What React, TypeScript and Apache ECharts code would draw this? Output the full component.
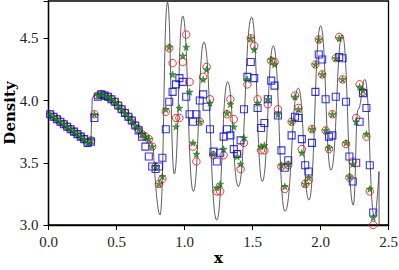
import React, { useEffect, useRef } from "react";
import * as echarts from "echarts";

// sample positions of the coarse-grid solutions
const xs = [
  0.0125, 0.0375, 0.0625, 0.0875, 0.1125, 0.1375, 0.1625, 0.1875, 0.2125, 0.2375,
  0.2625, 0.2875, 0.3125, 0.3375, 0.3625, 0.3875, 0.4125, 0.4375, 0.4625, 0.4875,
  0.5125, 0.5375, 0.5625, 0.5875, 0.6125, 0.6375, 0.6625, 0.6875, 0.7125, 0.7375,
  0.7625, 0.7875, 0.8125, 0.8375, 0.8625, 0.8875, 0.9125, 0.9375, 0.9625, 0.9875,
  1.0125, 1.0375, 1.0625, 1.0875, 1.1125, 1.1375, 1.1625, 1.1875, 1.2125, 1.2375,
  1.2625, 1.2875, 1.3125, 1.3375, 1.3625, 1.3875, 1.4125, 1.4375, 1.4625, 1.4875,
  1.5125, 1.5375, 1.5625, 1.5875, 1.6125, 1.6375, 1.6625, 1.6875, 1.7125, 1.7375,
  1.7625, 1.7875, 1.8125, 1.8375, 1.8625, 1.8875, 1.9125, 1.9375, 1.9625, 1.9875,
  2.0125, 2.0375, 2.0625, 2.0875, 2.1125, 2.1375, 2.1625, 2.1875, 2.2125, 2.2375,
  2.2625, 2.2875, 2.3125, 2.3375, 2.3625, 2.3875,
];

const redCircles = [
  3.89, 3.87, 3.85, 3.83, 3.81, 3.79, 3.77, 3.75, 3.73, 3.71,
  3.69, 3.66, 3.68, 3.89, 4.04, 4.05, 4.04, 4.03, 4.01, 3.99,
  3.96, 3.93, 3.90, 3.87, 3.84, 3.80, 3.77, 3.73, 3.71, 3.69,
  3.63, 3.47, 3.33, 3.37, 3.91, 4.42, 4.30, 3.86, 3.86, 4.31,
  4.53, 4.15, 3.63, 3.51, 3.83, 4.19, 4.27, 4.01, 3.56, 3.27,
  3.27, 3.56, 3.89, 4.01, 3.85, 3.57, 3.45, 3.66, 4.13, 4.50,
  4.44, 4.01, 3.60, 3.60, 3.97, 4.32, 4.31, 3.93, 3.47, 3.29,
  3.48, 3.83, 4.04, 3.94, 3.61, 3.33, 3.36, 3.77, 4.29, 4.49,
  4.21, 3.76, 3.61, 3.89, 4.34, 4.51, 4.17, 3.65, 3.38, 3.51,
  3.86, 4.13, 4.07, 3.71, 3.27, 3.00,
];

const greenStars = [
  3.89, 3.87, 3.85, 3.83, 3.81, 3.79, 3.77, 3.75, 3.73, 3.71,
  3.69, 3.66, 3.68, 3.89, 4.04, 4.05, 4.04, 4.03, 4.01, 3.99,
  3.96, 3.93, 3.90, 3.87, 3.84, 3.80, 3.77, 3.73, 3.71, 3.69,
  3.63, 3.47, 3.33, 3.39, 3.93, 4.43, 4.21, 3.79, 3.94, 4.36,
  4.43, 4.07, 3.66, 3.57, 3.83, 4.17, 4.25, 3.98, 3.57, 3.30,
  3.33, 3.61, 3.90, 3.97, 3.79, 3.55, 3.49, 3.70, 4.17, 4.50,
  4.41, 3.98, 3.63, 3.64, 4.01, 4.33, 4.29, 3.89, 3.48, 3.31,
  3.49, 3.83, 4.03, 3.93, 3.58, 3.33, 3.38, 3.77, 4.29, 4.49,
  4.21, 3.76, 3.62, 3.89, 4.34, 4.50, 4.17, 3.66, 3.39, 3.49,
  3.83, 4.11, 4.08, 3.73, 3.29, 3.06,
];

const blueSquares = [
  3.89, 3.87, 3.85, 3.83, 3.81, 3.79, 3.77, 3.75, 3.73, 3.71,
  3.69, 3.66, 3.67, 3.86, 4.03, 4.05, 4.04, 4.03, 4.01, 3.99,
  3.96, 3.93, 3.90, 3.87, 3.84, 3.80, 3.76, 3.71, 3.63, 3.55,
  3.47, 3.45, 3.47, 3.54, 3.77, 3.99, 4.07, 4.13, 4.18, 4.15,
  4.03, 3.89, 3.83, 3.89, 4.00, 4.05, 3.95, 3.77, 3.59, 3.51,
  3.58, 3.71, 3.77, 3.72, 3.61, 3.57, 3.68, 3.93, 4.19, 4.31,
  4.18, 3.94, 3.78, 3.82, 4.01, 4.16, 4.12, 3.88, 3.60, 3.46,
  3.52, 3.72, 3.87, 3.86, 3.69, 3.48, 3.43, 3.66, 4.07, 4.37,
  4.33, 4.01, 3.71, 3.72, 4.03, 4.35, 4.34, 3.99, 3.55, 3.35,
  3.50, 3.83, 4.06, 3.94, 3.48, 3.10,
];

// high-resolution reference solution: smooth part and shock
const refSmoothX = [0, 0.30, 0.312, 0.322, 0.34, 0.385, 0.43, 0.50, 0.58, 0.65, 0.72, 0.77];
const refSmoothY = [3.89, 3.655, 3.665, 4.02, 4.045, 4.055, 4.04, 3.98, 3.89, 3.80, 3.71, 3.63];
// oscillatory part: extrema
const refWaveX = [
  0.77, 0.82, 0.875, 0.925, 0.987, 1.065, 1.143, 1.237, 1.317, 1.396,
  1.494, 1.572, 1.653, 1.739, 1.837, 1.915, 2.001, 2.077, 2.160, 2.241,
  2.276, 2.327, 2.396, 2.430,
];
const refWaveY = [
  3.63, 3.08, 4.79, 3.41, 4.68, 3.27, 4.47, 3.04, 4.15, 3.31,
  4.67, 3.35, 4.44, 3.11, 4.10, 3.20, 4.60, 3.44, 4.53, 3.16,
  3.93, 4.17, 3.07, 3.43,
];
// final drop at the right end
const refDropX = [2.43, 2.432];
const refDropY = [3.43, 2.5];

const xTicks = ["0.0", "0.5", "1.0", "1.5", "2.0", "2.5"];
const yTicks = ["3.0", "3.5", "4.0", "4.5"];

const STAR =
  "path://M50,0 L61,35 L98,35 L68,57 L79,91 L50,70 L21,91 L32,57 L2,35 L39,35 Z";

const pair = (a: number[], b: number[]) => a.map((v, i) => [v, b[i]]);

export default function App() {
  const ref = useRef<HTMLDivElement>(null);
  useEffect(() => {
    if (!ref.current) return;
    const chart = echarts.init(ref.current, null, { renderer: "svg" });
    const tickFont = {
      fontFamily: "'Liberation Serif', 'DejaVu Serif', serif",
      fontSize: 15,
      color: "#222",
    };
    const nameFont = {
      fontFamily: "'DejaVu Serif', serif",
      fontWeight: "bold" as const,
      fontSize: 15,
      color: "#000",
    };
    const lineCommon = {
      type: "line" as const,
      showSymbol: false,
      symbol: "none",
      lineStyle: { color: "#333", width: 0.8 },
      z: 1,
      silent: true,
    };
    chart.setOption({
      animation: false,
      grid: {
        left: 48.5,
        right: 10.5,
        top: 1,
        bottom: 45,
        containLabel: false,
        outerBoundsMode: "none",
        show: true,
        borderColor: "#000",
        borderWidth: 1.3,
        backgroundColor: "transparent",
      },
      xAxis: {
        type: "value",
        min: 0,
        max: 2.5,
        interval: 0.5,
        name: "x",
        nameLocation: "middle",
        nameGap: 25,
        nameMoveOverlap: false,
        nameTextStyle: nameFont,
        axisLine: { show: true, lineStyle: { color: "#000", width: 1.3 } },
        axisTick: { show: true, inside: false, length: 5, lineStyle: { color: "#000" } },
        axisLabel: {
          ...tickFont,
          margin: 9,
          formatter: (v: number) => {
            const k = Math.round(v / 0.5);
            return Math.abs(v - k * 0.5) < 1e-6 ? xTicks[k] ?? "" : "";
          },
        },
        splitLine: { show: false },
      },
      yAxis: {
        type: "value",
        min: 3.0,
        max: 4.8,
        interval: 0.5,
        name: "Density",
        nameLocation: "middle",
        nameGap: 31,
        nameMoveOverlap: false,
        nameTextStyle: nameFont,
        axisLine: { show: true, lineStyle: { color: "#000", width: 1.3 } },
        axisTick: { show: true, inside: false, length: 5, lineStyle: { color: "#000" } },
        axisLabel: {
          ...tickFont,
          margin: 10,
          formatter: (v: number) => {
            const k = Math.round((v - 3.0) / 0.5);
            return Math.abs(v - 3.0 - k * 0.5) < 1e-6 ? yTicks[k] ?? "" : "";
          },
        },
        splitLine: { show: false },
      },
      series: [
        { ...lineCommon, name: "reference", data: pair(refSmoothX, refSmoothY) },
        {
          ...lineCommon,
          name: "reference wave",
          data: pair(refWaveX, refWaveY),
          smooth: 0.5,
          smoothMonotone: "x",
        },
        { ...lineCommon, name: "reference drop", data: pair(refDropX, refDropY) },
        {
          type: "scatter",
          name: "scheme A",
          data: pair(xs, redCircles),
          symbol: "circle",
          symbolSize: 7.5,
          itemStyle: { color: "rgba(0,0,0,0)", borderColor: "#ff0000", borderWidth: 1 },
          z: 2,
        },
        {
          type: "scatter",
          name: "scheme B",
          data: pair(xs, blueSquares),
          symbol: "rect",
          symbolSize: 7,
          itemStyle: { color: "rgba(0,0,0,0)", borderColor: "#0000ff", borderWidth: 1.1 },
          z: 3,
        },
        {
          type: "scatter",
          name: "scheme C",
          data: pair(xs, greenStars),
          symbol: STAR,
          symbolSize: 7,
          itemStyle: { color: "#118c11", borderColor: "#005500", borderWidth: 0.5 },
          z: 4,
        },
      ],
    });
    return () => chart.dispose();
  }, []);
  return <div ref={ref} style={{ width: 399, height: 270, position: "absolute", left: 0, top: 0 }} />;
}
